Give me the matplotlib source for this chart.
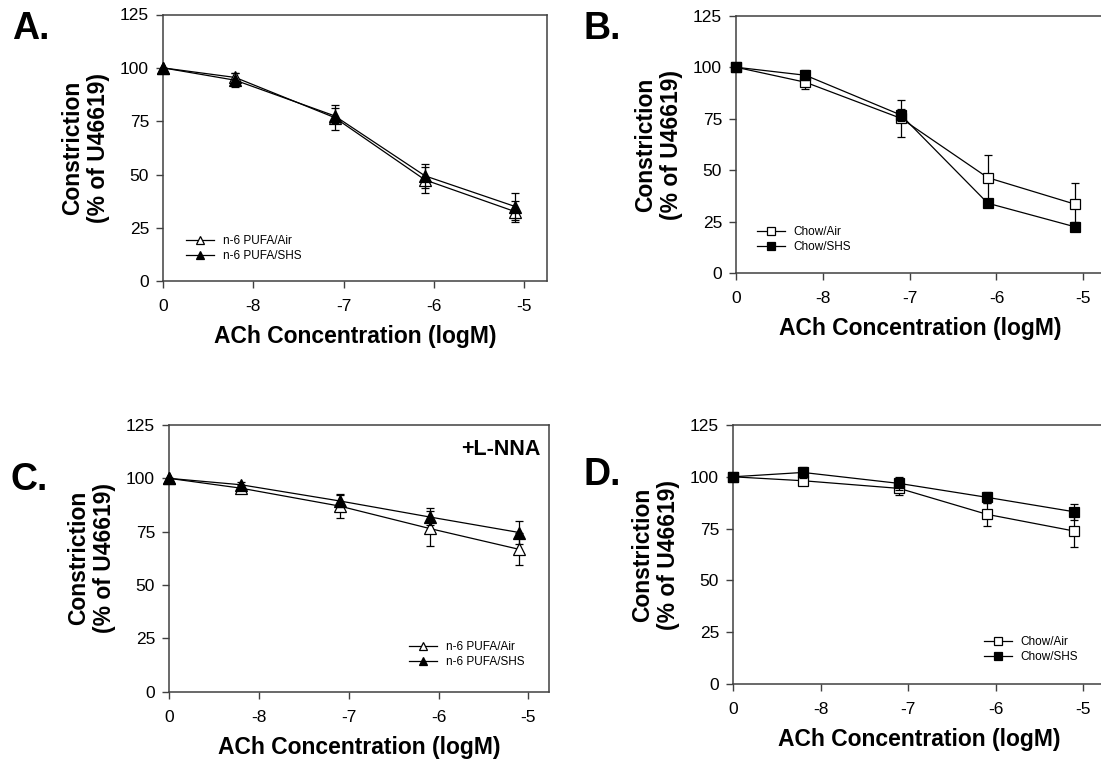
import numpy as np
import matplotlib
matplotlib.use("Agg")
import matplotlib.pyplot as plt

plt.rcParams['font.family'] = ['Liberation Sans', 'DejaVu Sans']

# log concentrations (0 = no ACh, drawn at -9)
x_logm = [-9, -8.2, -7.1, -6.1, -5.1]
tick_pos = [-9, -8, -7, -6, -5]
tick_labels = ["0", "-8", "-7", "-6", "-5"]
y_ticks = [0, 25, 50, 75, 100, 125]

# A: n-6 PUFA
a_air = [100, 95.5, 76.7, 47.5, 32.6]
a_air_err = [0, 2, 6, 6, 5]
a_shs = [100, 94.2, 77.5, 49.4, 35.0]
a_shs_err = [0, 3.4, 3.5, 5.5, 6.5]

# B: Chow
b_air = [100, 92.7, 75.2, 46.4, 33.6]
b_air_err = [0, 3.5, 9, 11, 10.4]
b_shs = [100, 96.1, 76.8, 34.0, 22.6]
b_shs_err = [0, 2.5, 3, 2, 2.2]

# C: n-6 PUFA + L-NNA
c_air = [100, 95.4, 87.0, 76.5, 66.7]
c_air_err = [0, 1.5, 5.5, 8, 7.5]
c_shs = [100, 97.0, 89.4, 81.9, 74.6]
c_shs_err = [0, 1.5, 3, 4, 5.6]

# D: Chow + L-NNA
d_air = [100, 98.1, 94.4, 81.9, 73.8]
d_air_err = [0, 1.5, 3, 5.5, 7.6]
d_shs = [100, 102.1, 96.8, 90.1, 83.1]
d_shs_err = [0, 2.5, 3.2, 2.7, 4]

W, H = 1101, 767
fig = plt.figure(figsize=(W / 100, H / 100), dpi=100)

spine_col = '#404040'


def px_axes(left, top, right, bottom):
    return fig.add_axes([left / W, 1 - bottom / H, (right - left) / W, (bottom - top) / H])


def panel(ax, air, air_err, shs, shs_err, marker, names, leg_xy, xmax):
    ms = 8 if marker == '^' else 7
    handles = []
    for y, err, fc, name, z in [(air, air_err, 'white', names[0], 3),
                                (shs, shs_err, 'black', names[1], 4)]:
        eb = ax.errorbar(x_logm, y, yerr=err, color='black', lw=0.9, marker=marker,
                         ms=ms, mfc=fc, mec='black', mew=0.9,
                         capsize=3, elinewidth=0.9, capthick=0.9, zorder=z)
        eb[0].set_clip_on(False)
        eb[0].set_label(name)
        handles.append(eb[0])
    ax.set_xlim(-9, xmax)
    ax.set_ylim(0, 125)
    ax.set_xticks(tick_pos)
    ax.set_xticklabels(tick_labels)
    ax.set_yticks(y_ticks)
    ax.tick_params(axis='both', labelsize=12.5, direction='out', length=5,
                   width=1, color=spine_col)
    ax.tick_params(axis='x', pad=8)
    ax.tick_params(axis='y', pad=5)
    for s in ax.spines.values():
        s.set_color(spine_col)
        s.set_linewidth(1.1)
    ax.set_xlabel("ACh Concentration (logM)", fontsize=16.5, fontweight='bold', labelpad=8)
    ax.set_ylabel("Constriction\n(% of U46619)", fontsize=16.5, fontweight='bold', labelpad=7)
    leg = ax.legend(handles=handles, loc='lower left', bbox_to_anchor=leg_xy,
                    frameon=False, fontsize=8.5, borderpad=0, borderaxespad=0,
                    handlelength=2.4, handletextpad=0.7, labelspacing=0.25,
                    markerscale=0.8)


axA = px_axes(163, 14.5, 547, 281.3)
panel(axA, a_air, a_air_err, a_shs, a_shs_err, '^',
      ["n-6 PUFA/Air", "n-6 PUFA/SHS"], (0.06, 0.072), -4.75)

axB = px_axes(736, 15.7, 1105, 273.3)
panel(axB, b_air, b_air_err, b_shs, b_shs_err, 's',
      ["Chow/Air", "Chow/SHS"], (0.056, 0.08), -4.75)

axC = px_axes(169, 425, 549, 691.7)
panel(axC, c_air, c_air_err, c_shs, c_shs_err, '^',
      ["n-6 PUFA/Air", "n-6 PUFA/SHS"], (0.632, 0.09), -4.77)
axC.text(1 - 9 / 380, 1 - 14 / 266.7, "+L-NNA", transform=axC.transAxes,
         ha='right', va='top', fontsize=15.5, fontweight='bold')

axD = px_axes(733, 425, 1105, 684)
panel(axD, d_air, d_air_err, d_shs, d_shs_err, 's',
      ["Chow/Air", "Chow/SHS"], (0.675, 0.082), -4.75)

# panel letters
for lab, x, y in [("A.", 12, 39), ("B.", 583, 39), ("C.", 10, 490), ("D.", 583, 485)]:
    fig.text(x / W, 1 - y / H, lab, fontsize=27, fontweight='bold', va='baseline')

fig.savefig("out.png", dpi=100)
